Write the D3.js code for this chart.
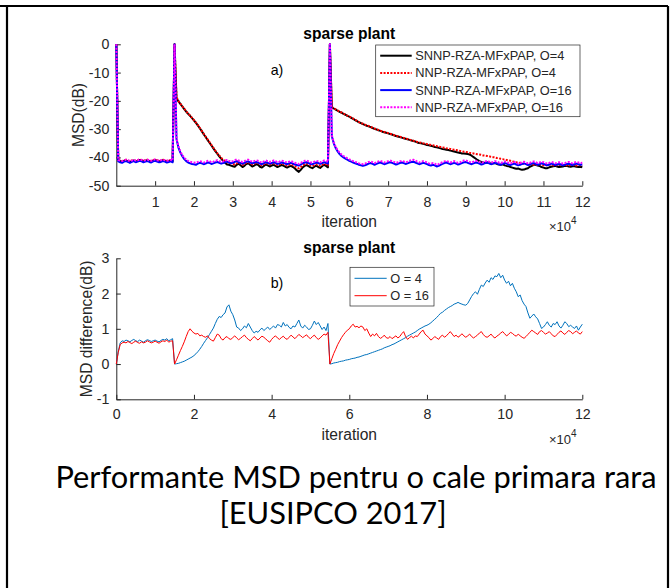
<!DOCTYPE html>
<html>
<head>
<meta charset="utf-8">
<script src="https://cdn.jsdelivr.net/npm/d3@7"></script>
<style>
body { margin: 0; background: #fff; }
svg { display: block; }
</style>
</head>
<body>
<div id="main"></div>
<script>
// curves are sampled every 0.05 x 10^4 iterations, from 0 to 12
var step = 0.05;

// panel a) MSD in dB
var msd_snnp_o4 = [0,
    -41.0,-41.3,-41.6,-41.2,-41.0,-41.4,-41.7,-41.3,-41.1,-41.5,
    -41.2,-40.9,-41.1,-41.4,-41.2,-41.0,-41.3,-41.5,-41.1,-40.9,
    -41.2,-41.4,-41.3,-41.0,-41.2,-41.5,-41.3,-41.1,-41.4,
    0,
    -19.0,-20.2,-21.1,-22.0,-22.9,-23.8,-24.6,-25.3,-26.1,-26.9,
    -27.8,-28.7,-29.7,-30.7,-31.8,-32.8,-33.8,-34.8,-35.8,-36.8,
    -37.8,-38.7,-39.6,-40.4,-41.2,-41.9,-42.5,-42.6,-42.9,-43.1,
    -43.3,-42.6,-42.2,-42.8,-43.4,-43.0,-42.3,-42.1,-42.7,-43.2,
    -42.9,-42.4,-42.6,-43.3,-43.6,-43.0,-42.5,-42.8,-43.2,-42.9,
    -42.6,-43.0,-43.4,-43.1,-42.7,-42.9,-43.3,-43.6,-43.2,-43.0,
    -43.4,-43.9,-44.6,-45.1,-44.4,-43.5,-43.0,-42.7,-43.1,-43.5,
    -43.8,-43.3,-42.9,-43.4,-43.7,-43.1,-42.6,-43.0,-43.5,
    0,
    -22.3,-22.7,-23.1,-23.5,-23.9,-24.2,-24.6,-24.9,-25.3,-25.6,
    -26.0,-26.4,-26.8,-27.2,-27.6,-27.9,-28.2,-28.5,-28.8,-29.0,
    -29.3,-29.6,-29.9,-30.1,-30.4,-30.6,-30.9,-31.1,-31.3,-31.5,
    -31.7,-31.9,-32.2,-32.4,-32.6,-32.8,-33.0,-33.2,-33.4,-33.6,
    -33.8,-34.0,-34.2,-34.4,-34.7,-34.9,-35.0,-35.2,-35.4,-35.6,
    -35.7,-35.9,-36.1,-36.3,-36.4,-36.6,-36.8,-37.0,-37.1,-37.3,
    -37.4,-37.6,-37.7,-37.9,-38.1,-38.3,-38.4,-38.6,-38.6,-38.7,
    -38.8,-39.0,-39.4,-39.9,-40.4,-40.9,-41.3,-41.6,-41.8,-41.9,
    -41.8,-42.0,-42.2,-42.1,-42.0,-42.3,-42.5,-42.6,-42.4,-42.8,
    -43.0,-43.1,-43.4,-43.6,-43.8,-44.0,-43.9,-44.2,-44.4,-44.3,
    -44.0,-43.8,-43.3,-43.0,-42.6,-42.6,-42.9,-43.0,-43.4,-43.6,
    -43.8,-43.8,-43.5,-43.3,-43.1,-43.0,-43.2,-43.4,-43.3,-43.2,
    -43.0,-43.0,-43.2,-43.3,-43.1,-43.1,-43.3,-43.4,-43.3,-43.5];

var msd_nnp_o4 = [0,
    -40.9,-41.1,-41.3,-41.0,-40.8,-41.2,-41.4,-41.1,-40.9,-41.2,
    -41.0,-40.7,-40.9,-41.2,-41.0,-40.8,-41.1,-41.3,-40.9,-40.8,
    -41.0,-41.2,-41.1,-40.8,-41.0,-41.2,-41.1,-40.9,-41.2,
    0,
    -18.8,-20.0,-21.0,-21.9,-22.8,-23.7,-24.5,-25.2,-26.0,-26.8,
    -27.7,-28.6,-29.6,-30.6,-31.6,-32.6,-33.6,-34.6,-35.6,-36.6,
    -37.6,-38.5,-39.3,-40.1,-40.8,-41.3,-41.7,-41.9,-42.1,-42.3,
    -42.5,-42.1,-41.8,-42.2,-42.6,-42.4,-41.9,-41.7,-42.1,-42.5,
    -42.3,-41.9,-42.0,-42.5,-42.8,-42.4,-42.0,-42.2,-42.5,-42.3,
    -42.1,-42.4,-42.7,-42.5,-42.2,-42.3,-42.6,-42.9,-42.6,-42.4,
    -42.7,-43.1,-43.6,-43.9,-43.4,-42.8,-42.4,-42.2,-42.5,-42.8,
    -43.0,-42.7,-42.4,-42.7,-43.0,-42.6,-42.2,-42.4,-42.8,
    0,
    -22.2,-22.6,-23.0,-23.4,-23.8,-24.1,-24.5,-24.8,-25.2,-25.5,
    -25.9,-26.3,-26.7,-27.1,-27.5,-27.8,-28.1,-28.4,-28.7,-28.9,
    -29.2,-29.5,-29.8,-30.0,-30.3,-30.5,-30.8,-31.0,-31.2,-31.4,
    -31.6,-31.8,-32.1,-32.3,-32.5,-32.7,-32.9,-33.1,-33.3,-33.5,
    -33.7,-33.9,-34.1,-34.3,-34.5,-34.7,-34.8,-35.0,-35.1,-35.3,
    -35.4,-35.6,-35.7,-35.9,-36.0,-36.2,-36.3,-36.5,-36.6,-36.8,
    -36.9,-37.0,-37.2,-37.3,-37.4,-37.6,-37.7,-37.8,-38.0,-38.1,
    -38.2,-38.4,-38.5,-38.6,-38.8,-38.9,-39.0,-39.1,-39.3,-39.4,
    -39.5,-39.6,-39.8,-39.9,-40.0,-40.2,-40.3,-40.5,-40.6,-40.8,
    -40.9,-41.1,-41.2,-41.4,-41.5,-41.7,-41.8,-41.9,-42.1,-42.2,
    -42.3,-42.4,-42.5,-42.4,-42.6,-42.7,-42.5,-42.4,-42.6,-42.8,
    -42.9,-42.7,-42.5,-42.6,-42.8,-42.9,-42.7,-42.6,-42.8,-42.7,
    -42.6,-42.8,-42.9,-42.7,-42.6,-42.8,-42.9,-42.7,-42.8,-42.9];

var msd_snnp_o16 = [0,
    -41.4,-41.7,-41.9,-41.5,-41.3,-41.6,-41.9,-41.6,-41.3,-41.7,
    -41.5,-41.2,-41.4,-41.7,-41.5,-41.3,-41.6,-41.8,-41.4,-41.2,
    -41.5,-41.7,-41.6,-41.3,-41.5,-41.8,-41.6,-41.4,-41.7,
    0,
    -33.5,-36.5,-38.3,-39.6,-40.6,-41.3,-41.8,-42.1,-42.3,-42.4,
    -42.6,-42.2,-41.9,-42.1,-42.4,-42.2,-41.8,-41.9,-42.3,-42.1,
    -41.8,-41.6,-41.9,-42.2,-42.0,-41.7,-41.5,-41.8,-42.1,-41.9,
    -41.6,-41.3,-41.7,-42.0,-42.2,-41.9,-41.5,-41.4,-41.8,-42.1,
    -41.9,-41.6,-41.8,-42.2,-42.4,-42.0,-41.7,-41.9,-42.2,-42.0,
    -41.7,-41.9,-42.3,-42.1,-41.8,-41.9,-42.2,-42.4,-42.1,-41.9,
    -42.2,-42.5,-42.7,-42.9,-42.5,-42.1,-41.8,-41.7,-42.0,-42.3,
    -42.4,-42.1,-41.8,-42.0,-42.3,-42.0,-41.7,-41.9,-42.2,
    0,
    -32.5,-35.0,-36.7,-37.9,-38.8,-39.5,-40.0,-40.4,-40.8,-41.2,
    -41.5,-41.8,-42.1,-42.3,-42.6,-42.8,-43.0,-42.8,-42.5,-42.2,
    -42.0,-42.3,-42.6,-42.3,-42.0,-41.8,-42.1,-42.4,-42.2,-41.9,
    -41.7,-41.9,-42.2,-42.5,-42.3,-42.0,-41.8,-42.0,-42.3,-42.1,
    -41.8,-41.6,-41.5,-41.8,-42.1,-42.4,-42.2,-41.9,-42.1,-42.4,
    -42.7,-42.9,-42.6,-42.8,-43.2,-43.0,-42.6,-42.3,-42.0,-41.8,
    -42.1,-42.4,-42.2,-41.9,-42.2,-42.5,-42.3,-42.0,-41.7,-41.6,
    -41.9,-42.2,-42.4,-42.1,-41.8,-41.9,-42.2,-42.5,-42.3,-42.0,
    -41.8,-42.1,-42.4,-42.2,-41.9,-42.1,-42.4,-42.6,-42.3,-42.0,
    -42.2,-42.5,-42.7,-42.4,-42.2,-42.5,-42.8,-42.6,-42.3,-42.1,
    -42.4,-42.7,-42.5,-42.2,-42.0,-42.3,-42.6,-42.4,-42.1,-42.3,
    -42.6,-42.8,-42.5,-42.2,-42.4,-42.7,-42.5,-42.3,-42.5,-42.8,
    -42.6,-42.3,-42.2,-42.5,-42.7,-42.4,-42.2,-42.4,-42.6,-42.5];

var msd_nnp_o16 = [0,
    -40.9,-41.1,-41.3,-41.0,-40.8,-41.0,-41.3,-41.1,-40.8,-41.1,
    -41.0,-40.7,-40.9,-41.1,-41.0,-40.8,-41.0,-41.2,-40.9,-40.7,
    -41.0,-41.1,-41.0,-40.8,-41.0,-41.2,-41.1,-40.9,-41.1,
    0,
    -33.2,-36.1,-37.9,-39.2,-40.1,-40.8,-41.2,-41.5,-41.7,-41.8,
    -41.9,-41.6,-41.3,-41.5,-41.8,-41.6,-41.2,-41.3,-41.7,-41.5,
    -41.2,-41.0,-41.3,-41.6,-41.4,-41.1,-40.9,-41.2,-41.5,-41.3,
    -41.0,-40.7,-41.1,-41.4,-41.6,-41.3,-40.9,-40.8,-41.2,-41.5,
    -41.3,-41.0,-41.2,-41.6,-41.8,-41.4,-41.1,-41.3,-41.6,-41.4,
    -41.1,-41.3,-41.7,-41.5,-41.2,-41.3,-41.6,-41.8,-41.5,-41.3,
    -41.6,-41.9,-42.1,-42.3,-41.9,-41.5,-41.2,-41.1,-41.4,-41.7,
    -41.8,-41.5,-41.2,-41.4,-41.7,-41.4,-41.1,-41.3,-41.6,
    0,
    -32.2,-34.6,-36.3,-37.5,-38.3,-39.0,-39.5,-39.9,-40.3,-40.7,
    -41.0,-41.3,-41.6,-41.8,-42.1,-42.3,-42.4,-42.2,-41.9,-41.6,
    -41.4,-41.7,-42.0,-41.7,-41.4,-41.2,-41.5,-41.8,-41.6,-41.3,
    -41.1,-41.3,-41.6,-41.9,-41.7,-41.4,-41.2,-41.4,-41.7,-41.5,
    -41.2,-41.0,-40.8,-41.1,-41.5,-41.8,-41.6,-41.3,-41.5,-41.8,
    -42.1,-42.3,-42.0,-42.2,-42.6,-42.4,-42.0,-41.7,-41.4,-41.2,
    -41.5,-41.8,-41.6,-41.3,-41.6,-41.9,-41.7,-41.4,-41.1,-41.0,
    -41.3,-41.6,-41.8,-41.5,-41.2,-41.3,-41.6,-41.9,-41.7,-41.4,
    -41.2,-41.5,-41.8,-41.6,-41.3,-41.5,-41.8,-42.0,-41.7,-41.4,
    -41.6,-41.9,-42.1,-41.8,-41.6,-41.9,-42.2,-42.0,-41.7,-41.5,
    -41.8,-42.1,-41.9,-41.6,-41.4,-41.7,-42.0,-41.8,-41.5,-41.7,
    -42.0,-42.2,-41.9,-41.6,-41.8,-42.1,-41.9,-41.7,-41.9,-42.2,
    -42.0,-41.7,-41.6,-41.9,-42.1,-41.8,-41.6,-41.8,-42.0,-41.9];

// panel b) MSD difference in dB
var diff_o4 = [0,
    0.35,0.60,0.66,0.64,0.68,0.66,0.63,0.67,0.70,0.66,
    0.64,0.68,0.65,0.62,0.66,0.69,0.67,0.64,0.66,0.68,
    0.65,0.63,0.67,0.70,0.68,0.72,0.66,0.69,0.72,
    0,
    0.01,0.02,0.04,0.06,0.08,0.11,0.14,0.17,0.20,0.24,
    0.29,0.35,0.42,0.50,0.59,0.67,0.75,0.84,0.93,1.02,
    1.15,1.27,1.35,1.32,1.40,1.45,1.62,1.68,1.50,1.40,
    1.25,1.05,1.02,0.95,1.00,1.08,1.03,1.15,1.05,0.95,
    0.88,0.93,0.90,0.97,1.02,0.95,1.00,1.05,0.98,1.03,
    1.08,1.02,1.12,1.10,1.05,1.18,1.08,1.12,1.04,1.00,
    1.08,1.05,1.15,1.25,1.08,1.02,1.10,1.05,0.98,1.00,
    1.10,1.22,1.12,1.18,1.08,0.98,1.05,0.95,1.15,
    0,
    0.01,0.03,0.04,0.05,0.07,0.08,0.09,0.11,0.12,0.13,
    0.15,0.16,0.17,0.19,0.20,0.22,0.24,0.26,0.27,0.29,
    0.31,0.33,0.35,0.37,0.39,0.41,0.43,0.46,0.48,0.50,
    0.52,0.55,0.57,0.60,0.63,0.66,0.69,0.72,0.75,0.79,
    0.82,0.85,0.88,0.91,0.95,0.99,1.02,1.05,1.08,1.10,
    1.13,1.17,1.22,1.27,1.32,1.38,1.44,1.47,1.52,1.56,
    1.60,1.63,1.66,1.70,1.72,1.75,1.72,1.70,1.68,1.67,
    1.72,1.82,1.92,2.00,2.05,1.98,2.12,2.24,2.20,2.30,
    2.38,2.32,2.45,2.40,2.50,2.48,2.57,2.45,2.52,2.38,
    2.29,2.35,2.22,2.29,2.15,2.05,1.91,1.96,1.80,1.70,
    1.63,1.45,1.30,1.36,1.42,1.34,1.28,1.15,1.01,1.05,
    1.12,1.20,1.10,1.05,1.15,1.12,1.20,1.08,1.02,1.10,
    1.20,1.15,1.06,1.10,1.05,1.01,1.08,0.96,1.05,1.13];

var diff_o16 = [0,
    0.33,0.55,0.60,0.62,0.60,0.64,0.61,0.58,0.62,0.65,
    0.61,0.59,0.63,0.60,0.62,0.66,0.63,0.60,0.62,0.65,
    0.62,0.59,0.63,0.66,0.64,0.68,0.62,0.65,0.66,
    0,
    0.12,0.25,0.38,0.50,0.63,0.78,0.92,1.00,0.93,0.88,
    0.85,0.87,0.80,0.82,0.78,0.76,0.80,0.72,0.68,0.65,
    0.75,0.85,0.82,0.72,0.68,0.75,0.78,0.72,0.70,0.75,
    0.80,0.74,0.69,0.73,0.78,0.82,0.75,0.70,0.66,0.72,
    0.78,0.73,0.68,0.74,0.79,0.76,0.71,0.66,0.62,0.70,
    0.76,0.80,0.74,0.70,0.75,0.79,0.73,0.70,0.76,0.82,
    0.77,0.72,0.78,0.84,0.80,0.75,0.79,0.83,0.76,0.72,
    0.78,0.82,0.75,0.70,0.74,0.80,0.85,0.82,0.90,
    0,
    0.15,0.30,0.42,0.55,0.65,0.75,0.83,0.90,0.96,1.00,
    1.08,1.13,1.05,1.07,1.03,1.08,1.05,0.95,1.00,0.88,
    0.78,0.85,0.80,0.87,0.78,0.73,0.76,0.82,0.75,0.73,
    0.78,0.72,0.76,0.80,0.74,0.78,0.86,0.92,0.78,0.70,
    0.75,0.79,0.74,0.80,0.78,0.85,0.92,0.96,0.85,0.80,
    0.75,0.68,0.72,0.78,0.74,0.70,0.78,0.82,0.76,0.80,
    0.86,0.92,0.85,0.78,0.82,0.76,0.80,0.86,0.80,0.76,
    0.80,0.85,0.78,0.74,0.78,0.82,0.88,0.92,0.84,0.78,
    0.76,0.80,0.85,0.78,0.74,0.79,0.83,0.88,0.92,0.86,
    0.80,0.84,0.90,0.87,0.82,0.79,0.85,0.80,0.76,0.73,
    0.78,0.84,0.90,0.96,0.92,0.88,0.84,0.92,0.95,0.90,
    0.85,0.88,0.92,0.86,0.80,0.78,0.84,0.90,0.94,0.88,
    0.84,0.90,0.95,0.92,0.86,0.90,0.94,0.88,0.85,0.92];

var top_names = ["SNNP-RZA-MFxPAP, O=4", "NNP-RZA-MFxPAP, O=4",
                 "SNNP-RZA-MFxPAP, O=16", "NNP-RZA-MFxPAP, O=16"];
var bottom_names = ["O = 4", "O = 16"];
var top_xticks = [1, 2, 3, 4, 5, 6, 7, 8, 9, 10, 11, 12];
var top_yticks = [0, -10, -20, -30, -40, -50];
var bottom_xticks = [0, 2, 4, 6, 8, 10, 12];
var bottom_yticks = [-1, 0, 1, 2, 3];
var caption = ["Performante MSD pentru o cale primara rara", "[EUSIPCO 2017]"];

var axis_color = "#262626";
var font = "'Liberation Sans', Arial, sans-serif";

var to_points = function(values) {
    return values.map(function(v, i) { return [i * step, v]; });
};

var svg = d3.select("#main")
    .append("svg")
    .attr("width", 672)
    .attr("height", 588)
    .style("font-family", font);

svg.append("rect").attr("width", 672).attr("height", 588).attr("fill", "#fff");

// frame around the slide
svg.append("path")
    .attr("d", "M0,6H668M7,6V588M668,6V588")
    .attr("fill", "none")
    .attr("stroke", "#000")
    .attr("stroke-width", 2.2);

var draw_panel = function(opt) {
    var x = d3.scaleLinear().domain([0, 12]).range([116.3, 582.3]);
    var y = d3.scaleLinear().domain(opt.ydomain).range(opt.yrange);
    var g = svg.append("g");

    var xaxis = g.append("g")
        .attr("transform", "translate(0," + opt.yrange[0] + ")")
        .call(d3.axisBottom(x).tickValues(opt.xticks).tickSizeInner(-4.5)
              .tickSizeOuter(0).tickPadding(opt.xpad).tickFormat(String));
    var yaxis = g.append("g")
        .attr("transform", "translate(116.3,0)")
        .call(d3.axisLeft(y).tickValues(opt.yticks).tickSizeInner(-4.5)
              .tickSizeOuter(0).tickPadding(7).tickFormat(String));
    [xaxis, yaxis].forEach(function(a) {
        a.attr("font-family", null).attr("font-size", null);
        a.select(".domain").attr("stroke", axis_color);
        a.selectAll(".tick line").attr("stroke", axis_color);
        a.selectAll(".tick text")
            .attr("fill", axis_color)
            .style("font-size", "14.2px")
            .style("font-family", font);
    });

    var line = d3.line()
        .x(function(d) { return x(d[0]); })
        .y(function(d) { return y(d[1]); });

    opt.series.forEach(function(s) {
        g.append("path")
            .datum(to_points(s.values))
            .attr("fill", "none")
            .attr("stroke", s.color)
            .attr("stroke-width", s.width)
            .attr("stroke-dasharray", s.dash || null)
            .attr("stroke-linejoin", "round")
            .attr("d", line);
    });

    // title, axis labels, panel tag
    g.append("text")
        .attr("x", 349.3).attr("y", opt.title_y)
        .attr("text-anchor", "middle")
        .style("font-size", "15.6px").style("font-weight", "bold")
        .text("sparse plant");
    g.append("text")
        .attr("x", 349.3).attr("y", opt.xlabel_y)
        .attr("text-anchor", "middle").attr("fill", axis_color)
        .style("font-size", "15.6px")
        .text("iteration");
    g.append("text")
        .attr("transform", "translate(" + opt.ylabel_x + "," + (opt.yrange[0] + opt.yrange[1]) / 2 + ") rotate(-90)")
        .attr("text-anchor", "middle").attr("fill", axis_color)
        .style("font-size", "15.6px")
        .text(opt.ylabel);
    g.append("text")
        .attr("x", 277).attr("y", opt.tag_y)
        .attr("text-anchor", "middle")
        .style("font-size", "14.2px")
        .text(opt.tag);

    // x10^4 exponent
    var ex = g.append("text")
        .attr("x", 549).attr("y", opt.xlabel_y + 4)
        .attr("fill", axis_color)
        .style("font-size", "13px");
    ex.append("tspan").text("\u00d710");
    ex.append("tspan").attr("dy", -7).style("font-size", "10px").text("4");

    // legend
    var lg = g.append("g");
    lg.append("rect")
        .attr("x", opt.legend.x).attr("y", opt.legend.y)
        .attr("width", opt.legend.w).attr("height", opt.legend.h)
        .attr("fill", "#fff")
        .attr("stroke", axis_color)
        .attr("stroke-width", 0.7);
    opt.series.forEach(function(s, i) {
        var cy = opt.legend.y + opt.legend.first + i * opt.legend.gap;
        lg.append("line")
            .attr("x1", opt.legend.x + 4.5).attr("x2", opt.legend.x + opt.legend.line)
            .attr("y1", cy).attr("y2", cy)
            .attr("stroke", s.color)
            .attr("stroke-width", s.width)
            .attr("stroke-dasharray", s.dash || null);
        lg.append("text")
            .attr("x", opt.legend.x + opt.legend.line + 3.5).attr("y", cy)
            .attr("dy", "0.35em")
            .attr("fill", axis_color)
            .style("font-size", "12.8px")
            .text(s.name);
    });
};

draw_panel({
    ydomain: [-50, 0], yrange: [185.7, 44.3],
    xticks: top_xticks, yticks: top_yticks, xpad: 11,
    title_y: 38.5, xlabel_y: 227, ylabel_x: 84, ylabel: "MSD(dB)",
    tag: "a)", tag_y: 75,
    legend: {x: 375.7, y: 45, w: 204.3, h: 71.7, first: 10.7, gap: 17.2, line: 36},
    series: [
        {name: top_names[0], values: msd_snnp_o4, color: "#000000", width: 2},
        {name: top_names[1], values: msd_nnp_o4, color: "#ff0000", width: 2, dash: "2,1.4"},
        {name: top_names[2], values: msd_snnp_o16, color: "#0000ff", width: 2},
        {name: top_names[3], values: msd_nnp_o16, color: "#ff00ff", width: 2, dash: "2,1.4"}
    ]
});

draw_panel({
    ydomain: [-1, 3], yrange: [399.3, 258.3],
    xticks: bottom_xticks, yticks: bottom_yticks, xpad: 10,
    title_y: 252.7, xlabel_y: 440, ylabel_x: 92, ylabel: "MSD difference(dB)",
    tag: "b)", tag_y: 288,
    legend: {x: 350, y: 267.3, w: 84, h: 38.7, first: 11, gap: 17.4, line: 36.7},
    series: [
        {name: bottom_names[0], values: diff_o4, color: "#0072bd", width: 1},
        {name: bottom_names[1], values: diff_o16, color: "#ff0000", width: 1}
    ]
});

// slide caption
svg.selectAll(".caption")
    .data(caption)
    .enter()
    .append("text")
    .attr("class", "caption")
    .attr("x", function(d, i) { return i == 0 ? 356 : 333; })
    .attr("y", function(d, i) { return 488 + i * 36; })
    .attr("text-anchor", "middle")
    .style("font-family", "Lato, 'Open Sans', sans-serif")
    .style("font-size", "30.8px")
    .text(function(d) { return d; });
</script>
</body>
</html>
